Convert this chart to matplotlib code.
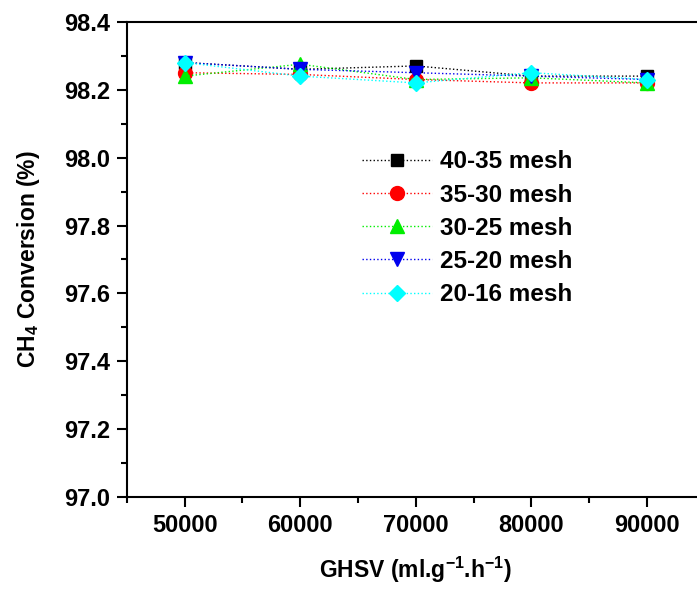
import numpy as np
import matplotlib
matplotlib.use("Agg")
import matplotlib.pyplot as plt
from matplotlib.ticker import MultipleLocator

plt.rcParams['font.family'] = ['Liberation Sans', 'DejaVu Sans']
plt.rcParams['font.weight'] = 'bold'
plt.rcParams['mathtext.default'] = 'regular'

DPI = 100

# GHSV (ml/g/h)
ghsv = [50000, 60000, 70000, 80000, 90000]

# CH4 conversion (%) per particle size
mesh_40_35 = [98.28, 98.26, 98.27, 98.24, 98.24]
mesh_35_30 = [98.25, 98.245, 98.23, 98.22, 98.22]
mesh_30_25 = [98.24, 98.275, 98.23, 98.235, 98.22]
mesh_25_20 = [98.28, 98.26, 98.25, 98.24, 98.23]
mesh_20_16 = [98.28, 98.24, 98.22, 98.25, 98.23]

labels = ['40-35 mesh', '35-30 mesh', '30-25 mesh', '25-20 mesh', '20-16 mesh']

fig = plt.figure(figsize=(697/DPI, 589/DPI), dpi=DPI)
ax = fig.add_axes([0.182, 0.156, 0.829, 0.807])

ax.plot(ghsv, mesh_40_35, ':', color='black', marker='s', ms=9, lw=1, label=labels[0])
ax.plot(ghsv, mesh_35_30, ':', color='red', marker='o', ms=10, lw=1, label=labels[1])
ax.plot(ghsv, mesh_30_25, ':', color='#00ee00', marker='^', ms=10, lw=1, label=labels[2])
ax.plot(ghsv, mesh_25_20, ':', color='#0000ee', marker='v', ms=10, lw=1, label=labels[3])
ax.plot(ghsv, mesh_20_16, ':', color='cyan', marker='D', ms=8, lw=1, label=labels[4])

ax.set_xlim(45000, 95000)
ax.set_ylim(97.0, 98.4)
ax.xaxis.set_major_locator(MultipleLocator(10000))
ax.xaxis.set_minor_locator(MultipleLocator(5000))
ax.yaxis.set_major_locator(MultipleLocator(0.2))
ax.yaxis.set_minor_locator(MultipleLocator(0.1))
ax.yaxis.set_major_formatter(plt.FormatStrFormatter('%.1f'))

ax.tick_params(which='major', direction='out', length=7, width=1.5, labelsize=17, pad=5)
ax.tick_params(which='minor', direction='out', length=4, width=1.5)
for s in ax.spines.values():
    s.set_linewidth(1.5)

ax.set_xlabel("GHSV (ml.g$^{-1}$.h$^{-1}$)", fontsize=16.5, fontweight='bold', labelpad=13)
ax.set_ylabel("CH$_4$ Conversion (%)", fontsize=16.5, fontweight='bold', labelpad=16)

ax.legend(loc='upper left', bbox_to_anchor=(0.39, 0.75), frameon=False,
          fontsize=17.5, handlelength=2.9, handletextpad=0.3, labelspacing=0.42,
          borderaxespad=0)

fig.savefig('out.png', dpi=DPI)
